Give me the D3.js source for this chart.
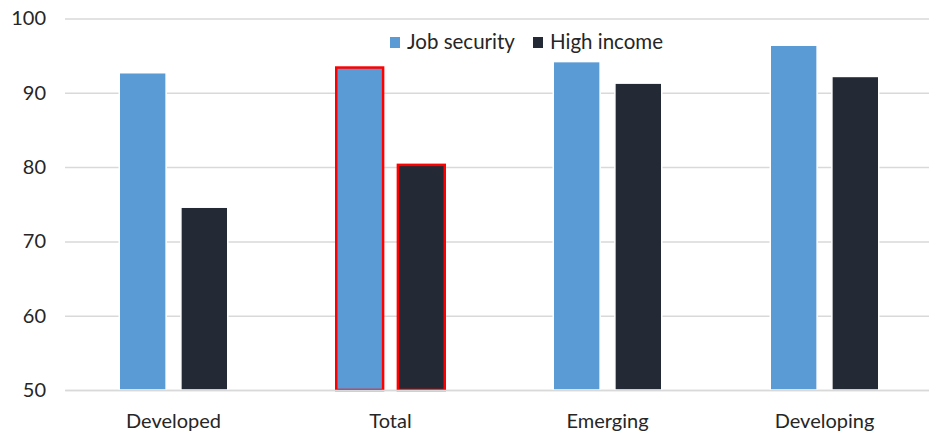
<!DOCTYPE html>
<html>
<head>
<meta charset="utf-8">
<script src="https://cdn.jsdelivr.net/npm/d3@7"></script>
<style>
  html, body { margin: 0; padding: 0; background: #fff; }
  svg { display: block; }
  text { font-family: Lato, "Open Sans", sans-serif; fill: #262626; }
</style>
</head>
<body>
<svg id="chart" width="929" height="435"></svg>
<script>
const categories = ["Developed", "Total", "Emerging", "Developing"];
const seriesNames = ["Job security", "High income"];
const jobSecurity = [92.7, 93.4, 94.2, 96.4];
const highIncome = [74.6, 80.3, 91.3, 92.2];
const yTicks = [50, 60, 70, 80, 90, 100];
const highlighted = ["Total"];
const colors = ["#5B9BD5", "#232A35"];

(function () {
const svg = d3.select("#chart");
const plotLeft = 65, plotRight = 933, plotTop = 18.5, plotBottom = 390;

const y = d3.scaleLinear().domain([50, 100]).range([plotBottom, plotTop]);
const x0 = d3.scaleBand().domain(categories).range([plotLeft, plotRight])
  .paddingInner(0.5).paddingOuter(0.25);
const x1 = d3.scaleBand().domain(seriesNames).range([0, x0.bandwidth()])
  .paddingInner(0.24).paddingOuter(0);
const color = d3.scaleOrdinal().domain(seriesNames).range(colors);

// gridlines
const grid = d3.axisLeft(y).tickValues(yTicks).tickSize(-(plotRight - plotLeft)).tickFormat("");
svg.append("g").attr("transform", `translate(${plotLeft},0)`).call(grid)
  .call(g => g.select(".domain").remove())
  .call(g => g.selectAll("line").attr("stroke", "#D9D9D9").attr("stroke-width", 1.5));

// y labels
const yAx = d3.axisLeft(y).tickValues(yTicks).tickSize(0).tickPadding(19);
svg.append("g").attr("transform", `translate(${plotLeft},0)`).call(yAx)
  .call(g => g.select(".domain").remove())
  .call(g => g.selectAll("text").attr("font-size", 20).style("font-family", "Lato, sans-serif").attr("fill", "#262626"));

// bars
const seriesData = [jobSecurity, highIncome];
const rows = [];
categories.forEach((c, i) => {
  seriesNames.forEach((s, j) => rows.push({cat: c, series: s, value: seriesData[j][i]}));
});

svg.append("g").selectAll("rect").data(rows).join("rect")
  .attr("x", d => x0(d.cat) + x1(d.series))
  .attr("y", d => y(d.value))
  .attr("width", x1.bandwidth())
  .attr("height", d => y(50) - y(d.value))
  .attr("fill", d => color(d.series))
  .attr("stroke", d => highlighted.includes(d.cat) ? "#FF0000" : "#FFFFFF")
  .attr("stroke-width", d => highlighted.includes(d.cat) ? 2.5 : 1.5);

// x axis
const xAx = d3.axisBottom(x0).tickSize(0).tickPadding(24);
svg.append("g").attr("transform", `translate(0,${plotBottom})`).call(xAx)
  .call(g => g.select(".domain").attr("stroke", "#D9D9D9").attr("stroke-width", 1.5))
  .call(g => g.selectAll("text").attr("font-size", 20).style("font-family", "Lato, sans-serif").attr("fill", "#262626"));

// legend
const legend = svg.append("g");
const legendX = [390, 533];
seriesNames.forEach((s, i) => {
  const g = legend.append("g").attr("transform", `translate(${legendX[i]},37)`);
  g.append("rect").attr("width", 10).attr("height", 11).attr("fill", color(s));
  g.append("text").attr("x", 17).attr("y", 12).attr("font-size", 20.5).text(s);
});
})();
</script>
</body>
</html>
